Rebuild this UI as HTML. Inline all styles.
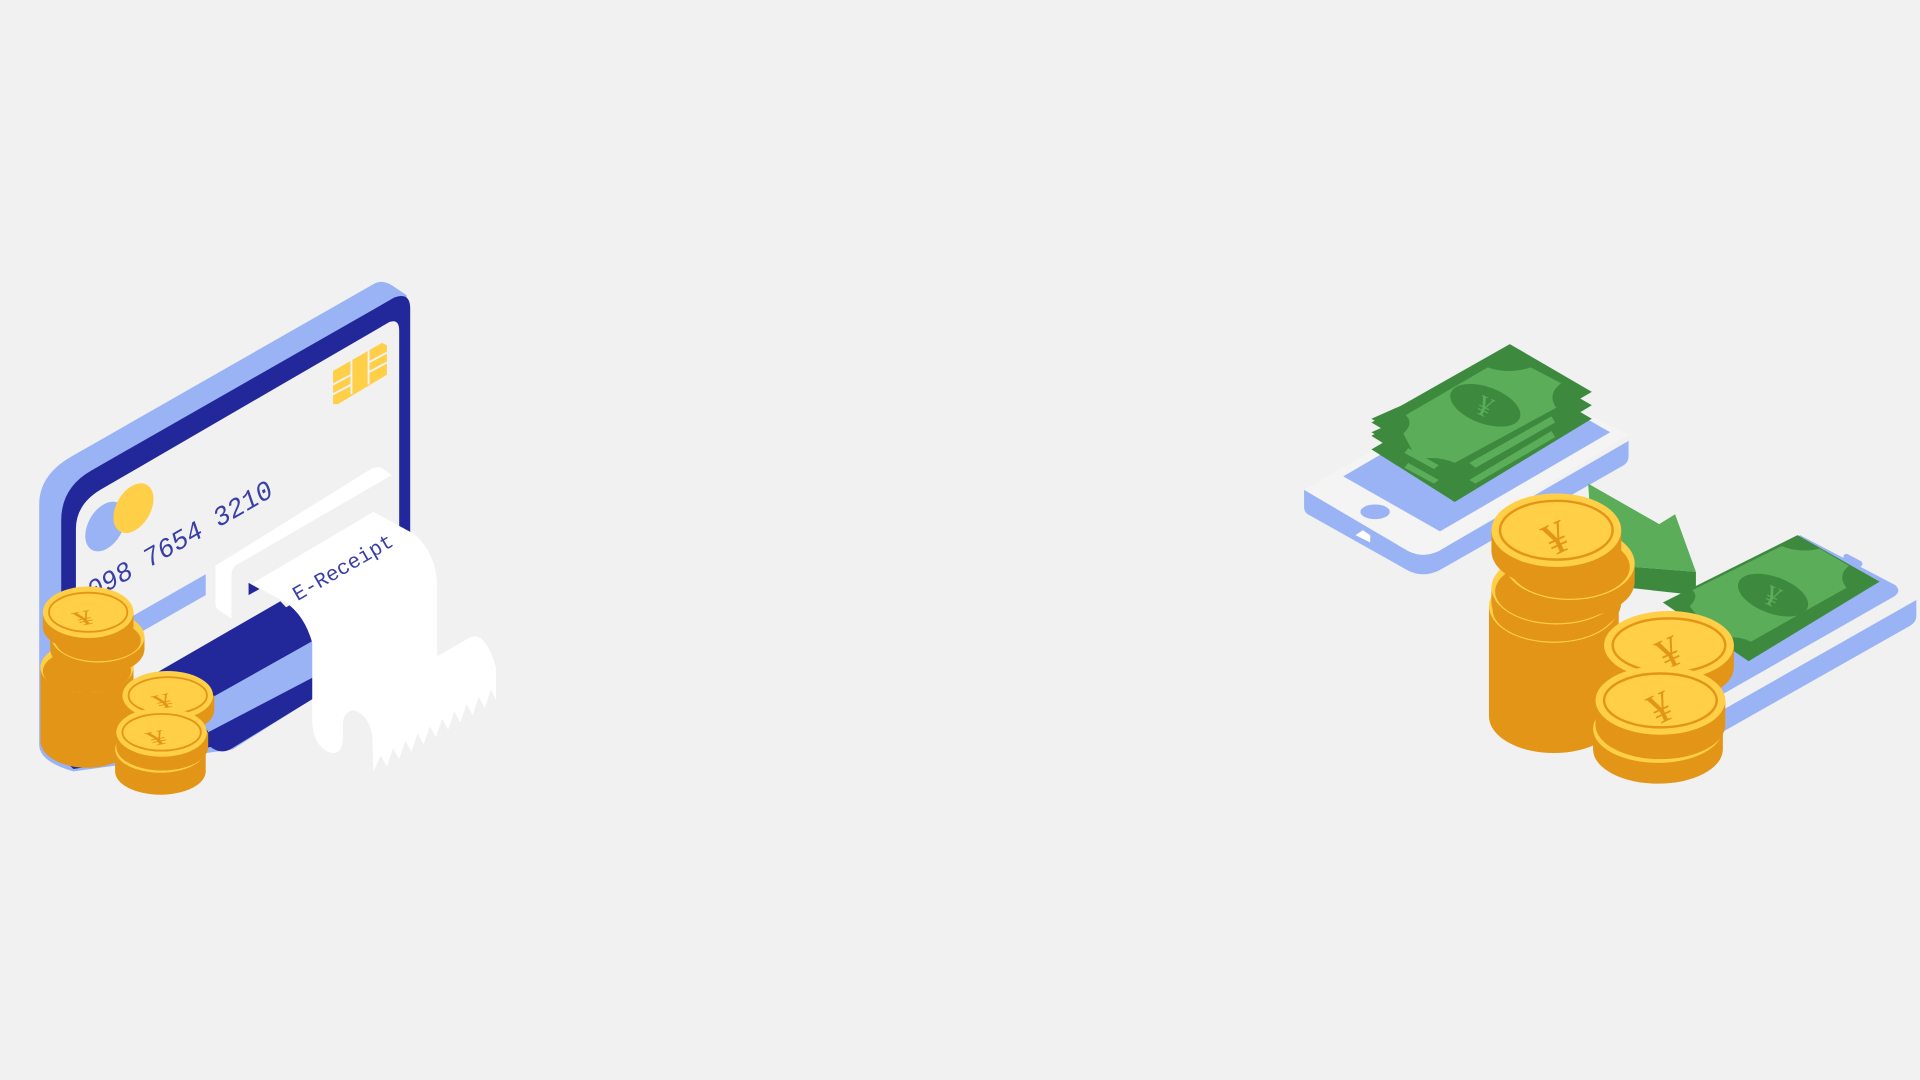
<!DOCTYPE html>
<html><head><meta charset="utf-8"><style>
html,body{margin:0;padding:0;background:#f1f1f1;}
svg{display:block;}
</style></head><body>
<svg width="1920" height="1080" viewBox="0 0 1568 882" xmlns="http://www.w3.org/2000/svg">
<defs>
<g id="ysym">
<text x="0" y="0" font-family="Liberation Serif, DejaVu Serif, serif" font-size="26" fill="#e39518" text-anchor="middle" transform="scale(1.2,0.65) rotate(-20)">¥</text>
</g>
</defs>
<rect width="1568" height="882" fill="#f1f1f1"/>

<!-- ===== LEFT: card ===== -->
<path d="M32,412 Q32,388 58,373 L305,232 Q312,228 320,233 L332,241 L335,520 L190,612 L60,630 Q32,622 32,608 Z" fill="#9ab3f5"/>
<path d="M50,425 Q50,398 75,384 L322,243 Q335,238 335,252 L335,522 L188,612 Q180,616 172,610 L60,628 Q50,620 50,605 Z" fill="#22289a"/>
<path d="M62,432 Q62,412 82,400 L318,263 Q326,260 326,270 L326,440 L62,600 Z" fill="#f1f1f1"/>
<polygon points="105,505 168,469 168,486 105,522" fill="#9ab3f5"/>
<!-- chip -->
<polygon points="272,303 312,280 316,282 316,306 276,330 272,330" fill="#ffcf47"/>
<g stroke="#f1f1f1" stroke-width="1.6">
<line x1="287" y1="294" x2="287" y2="322"/><line x1="301" y1="286" x2="301" y2="314"/>
<line x1="272" y1="314" x2="287" y2="306"/><line x1="272" y1="322" x2="287" y2="314"/>
<line x1="301" y1="296" x2="316" y2="288"/><line x1="301" y1="304" x2="316" y2="296"/>
</g>
<ellipse cx="86" cy="430" rx="14" ry="22" transform="rotate(30 86 430)" fill="#9ab3f5"/>
<ellipse cx="109" cy="415" rx="14" ry="22" transform="rotate(30 109 415)" fill="#ffcf47"/>
<text x="76" y="490" font-family="Liberation Mono, monospace" font-style="italic" font-size="22" fill="#3a3fa8" transform="rotate(-30 76 490)">098 7654 3210</text>

<!-- reader slot -->
<path d="M176,462 L303,383 Q308,380 313,383 L320,388 L192,462 Q189,465 189,470 L189,505 L178,498 Q176,496 176,492 Z" fill="#ffffff"/>
<polygon points="125,551 229,491 258,522 160,577" fill="#22289a"/>
<polygon points="160,577 258,522 258,552 178,598 170,598" fill="#9ab3f5"/>
<path d="M170,598 L258,552 L258,564 L190,610 Q182,614 175,608 Z" fill="#22289a"/>
<polygon points="203,476 212,481 203,486" fill="#22289a"/>
<!-- receipt -->
<path d="M205,477 L305,418 L338,436 Q357,452 357,480 L357,536 L383,521 Q396,514 405,545 L405,572 L401,563 L396,578 L391,569 L386,584 L381,575 L376,590 L371,581 L366,596 L361,587 L356,602 L351,593 L346,608 L341,599 L336,614 L331,605 L326,620 L321,611 L316,626 L311,617 L305,630 L304,600 Q300,582 288,580 Q280,582 280,592 L280,605 Q278,618 268,614 Q256,608 255,590 L255,525 Q248,500 230,490 Z" fill="#ffffff"/>
<text x="243" y="491" font-family="Liberation Mono, monospace" font-size="17" fill="#3a3fa8" transform="rotate(-30 243 491)">E-Receipt</text>

<!-- left coins -->
<g>
<path d="M33,545 L33,605 A38,22 0 0 0 109,605 L109,545 Z" fill="#e39518"/>
<ellipse cx="71" cy="545" rx="38" ry="21" fill="#ffcf47"/>
<ellipse cx="71" cy="548" rx="36" ry="18" fill="#e39518"/>
<path d="M41,520 L41,530 A38,21 0 0 0 118,530 L118,520 Z" fill="#e39518"/>
<ellipse cx="80" cy="520" rx="38" ry="21" fill="#ffcf47"/>
<ellipse cx="80" cy="523" rx="35" ry="17" fill="#e39518"/>
<path d="M35,500 L35,512 A37,20 0 0 0 109,512 L109,500 Z" fill="#e39518"/>
<ellipse cx="72" cy="500" rx="37" ry="21" fill="#ffcf47"/>
<ellipse cx="72" cy="500" rx="32" ry="16" fill="none" stroke="#e39518" stroke-width="1.5"/>
<use href="#ysym" x="72" y="510"/>
</g>
<g>
<path d="M94,612 L94,630 A37,19 0 0 0 168,630 L168,612 Z" fill="#e39518"/>
<ellipse cx="131" cy="612" rx="37" ry="19" fill="#ffcf47"/>
<path d="M100,568 L100,580 A37,19 0 0 0 175,580 L175,568 Z" fill="#e39518"/>
<ellipse cx="137" cy="568" rx="37" ry="20" fill="#ffcf47"/>
<ellipse cx="137" cy="568" rx="32" ry="15" fill="none" stroke="#e39518" stroke-width="1.5"/>
<use href="#ysym" x="137" y="578"/>
<path d="M95,598 L95,610 A37,19 0 0 0 170,610 L170,598 Z" fill="#e39518"/>
<ellipse cx="132" cy="598" rx="37" ry="20" fill="#ffcf47"/>
<ellipse cx="132" cy="598" rx="32" ry="15" fill="none" stroke="#e39518" stroke-width="1.5"/>
<use href="#ysym" x="132" y="608"/>
</g>

<!-- ===== RIGHT ===== -->
<!-- phone 1 -->
<path d="M1065,400 L1150,450 Q1162,456 1175,450 L1330,360 L1330,373 Q1330,377 1326,380 L1175,466 Q1162,472 1150,466 L1068,420 Q1065,418 1065,414 Z" fill="#9ab3f5"/>
<path d="M1065,400 L1230,305 L1330,355 L1175,450 Q1162,456 1150,450 Z" fill="#f4f4f4"/>
<polygon points="1097,389 1236,308 1315,353 1176,434" fill="#9ab3f5"/>
<ellipse cx="1123" cy="418" rx="12" ry="6" fill="#9ab3f5"/>
<polygon points="1107,437 1113,433 1119,437 1119,443" fill="#ffffff"/>

<!-- bills -->
<polygon points="1120,367 1132,360 1120,353 1233,303 1300,342 1188,410" fill="#3d8a3e"/>
<polygon points="1120,356 1132,349 1120,342 1233,292 1300,331 1188,398" fill="#3d8a3e"/>
<polygon points="1120,345 1233,281 1300,320 1188,385" fill="#3d8a3e"/>
<path d="M1146,354 Q1155,346 1148,339 L1215,300 Q1232,306 1250,300 L1275,313 Q1263,322 1271,333 L1188,378 Q1175,372 1157,375 Z" fill="#5bad5a"/>
<ellipse cx="1213" cy="331" rx="30" ry="15" transform="rotate(20 1213 331)" fill="#3d8a3e"/>
<text x="1213" y="340" font-family="Liberation Serif, serif" font-size="24" fill="#5bad5a" text-anchor="middle" transform="rotate(25 1213 331)">¥</text>
<polygon points="1150,366 1175,380 1171,383 1147,370" fill="#5bad5a"/>
<polygon points="1150,378 1175,392 1171,395 1147,382" fill="#5bad5a"/>
<polygon points="1200,378 1267,340 1270,345 1205,382" fill="#5bad5a"/>
<polygon points="1200,392 1267,352 1270,357 1205,395" fill="#5bad5a"/>

<!-- arrow -->
<polygon points="1297,395 1355,428 1368,420 1385,467 1335,463 1300,440" fill="#5bad5a"/>
<polygon points="1335,463 1385,467 1385,486 1330,480" fill="#3d8a3e"/>

<!-- phone 2 -->
<path d="M1380,595 L1565,490 L1565,503 Q1565,508 1560,511 L1385,610 Z" fill="#9ab3f5"/>
<path d="M1390,495 L1470,437 L1548,478 Q1553,483 1547,487 L1405,568 L1398,560 Z" fill="#9ab3f5"/>
<rect x="1505" y="455" width="17" height="5" rx="2.5" fill="#9ab3f5" transform="rotate(28 1513 457)"/>
<polygon points="1358,492 1468,437 1535,475 1428,540" fill="#3d8a3e"/>
<path d="M1380,495 Q1388,487 1382,482 L1455,446 Q1470,452 1486,448 L1510,462 Q1500,470 1508,480 L1430,524 Q1418,518 1400,522 Z" fill="#5bad5a"/>
<ellipse cx="1448" cy="486" rx="30" ry="15" transform="rotate(20 1448 486)" fill="#3d8a3e"/>
<text x="1448" y="495" font-family="Liberation Serif, serif" font-size="24" fill="#5bad5a" text-anchor="middle" transform="rotate(25 1448 486)">¥</text>

<!-- right coins big stack -->
<g>
<path d="M1216,495 L1216,585 A53,30 0 0 0 1322,585 L1322,495 Z" fill="#e39518"/>
<ellipse cx="1269" cy="495" rx="53" ry="30" fill="#ffcf47"/>
<ellipse cx="1269" cy="498" rx="50" ry="26" fill="#e39518"/>
<path d="M1218,480 L1218,492 A53,30 0 0 0 1324,492 L1324,480 Z" fill="#e39518"/>
<ellipse cx="1271" cy="480" rx="53" ry="30" fill="#ffcf47"/>
<ellipse cx="1271" cy="483" rx="50" ry="26" fill="#e39518"/>
<path d="M1229,460 L1229,475 A53,30 0 0 0 1335,475 L1335,460 Z" fill="#e39518"/>
<ellipse cx="1282" cy="460" rx="53" ry="30" fill="#ffcf47"/>
<ellipse cx="1282" cy="463" rx="49" ry="26" fill="#e39518"/>
<path d="M1218,433 L1218,450 A53,30 0 0 0 1324,450 L1324,433 Z" fill="#e39518"/>
<ellipse cx="1271" cy="433" rx="53" ry="30" fill="#ffcf47"/>
<ellipse cx="1271" cy="433" rx="46" ry="24" fill="none" stroke="#e39518" stroke-width="2"/>
<text x="1271" y="452" font-family="Liberation Serif, serif" font-size="38" fill="#e39518" text-anchor="middle" transform="rotate(-25 1271 440)">¥</text>
</g>
<g>
<path d="M1301,595 L1301,612 A53,28 0 0 0 1407,612 L1407,595 Z" fill="#e39518"/>
<ellipse cx="1354" cy="595" rx="53" ry="28" fill="#ffcf47"/>
<path d="M1310,527 L1310,545 A53,28 0 0 0 1416,545 L1416,527 Z" fill="#e39518"/>
<ellipse cx="1363" cy="527" rx="53" ry="28" fill="#ffcf47"/>
<ellipse cx="1363" cy="527" rx="46" ry="22" fill="none" stroke="#e39518" stroke-width="2"/>
<text x="1363" y="545" font-family="Liberation Serif, serif" font-size="36" fill="#e39518" text-anchor="middle" transform="rotate(-25 1363 533)">¥</text>
<path d="M1303,572 L1303,592 A53,28 0 0 0 1409,592 L1409,572 Z" fill="#e39518"/>
<ellipse cx="1356" cy="572" rx="53" ry="28" fill="#ffcf47"/>
<ellipse cx="1356" cy="572" rx="46" ry="22" fill="none" stroke="#e39518" stroke-width="2"/>
<text x="1356" y="590" font-family="Liberation Serif, serif" font-size="36" fill="#e39518" text-anchor="middle" transform="rotate(-25 1356 578)">¥</text>
</g>
</svg>
</body></html>
